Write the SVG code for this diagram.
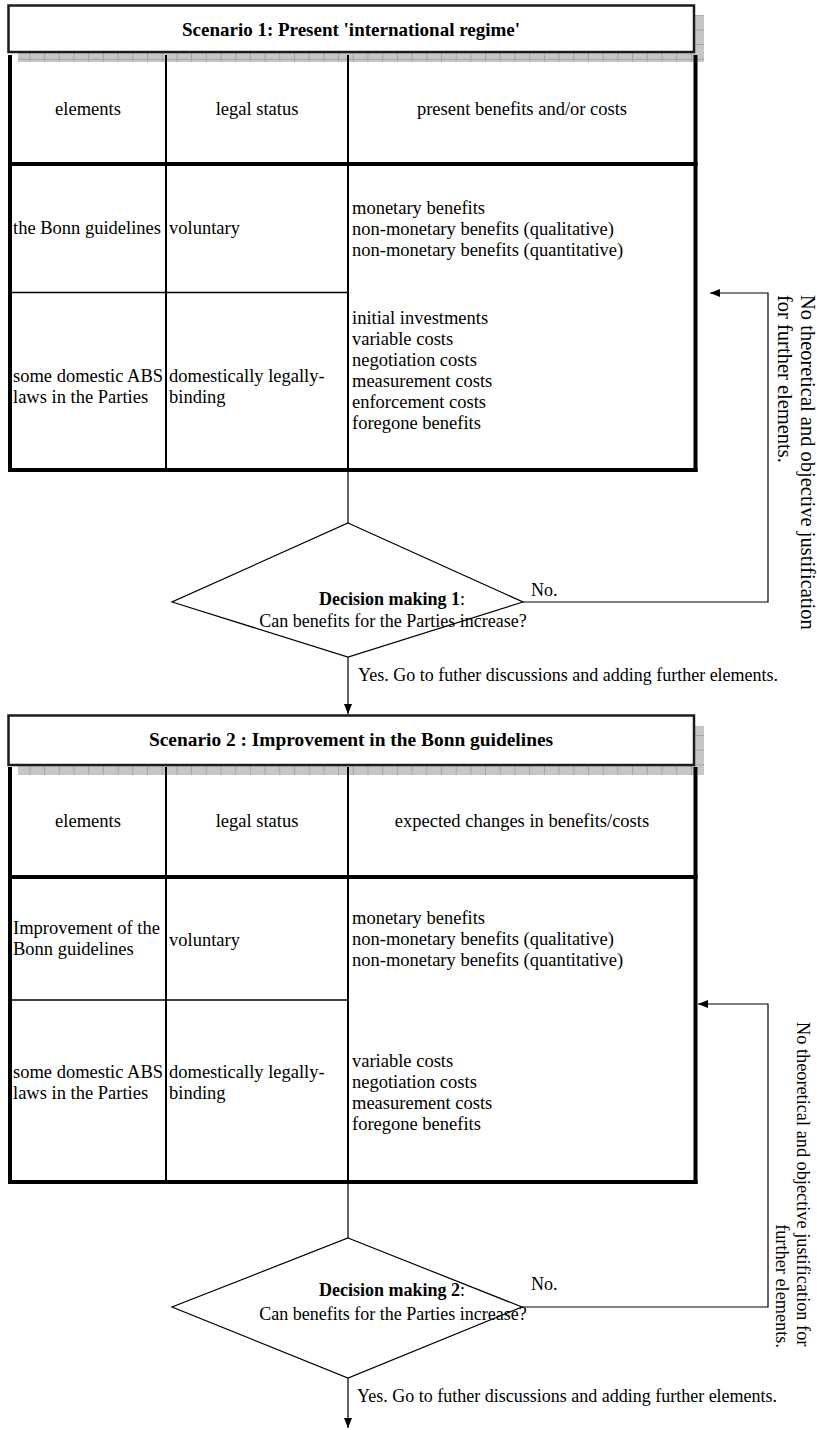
<svg xmlns="http://www.w3.org/2000/svg" width="817" height="1430" viewBox="0 0 817 1430">
  <defs>
    <!-- hatched drop-shadow fill used behind the scenario title boxes -->
    <pattern id="shade" width="14.7" height="14.7" patternUnits="userSpaceOnUse">
      <rect width="14.7" height="14.7" fill="#c6c6c6"/>
      <path d="M0.5 0V14.7M0 0.5H14.7" stroke="#9c9c9c" stroke-width="0.8"/>
    </pattern>
    <marker id="arrow" viewBox="0 0 10 8" refX="10" refY="4" markerWidth="10" markerHeight="8" markerUnits="userSpaceOnUse" orient="auto">
      <path d="M0 0L10 4L0 8Z" fill="#000"/>
    </marker>
  </defs>
  <style>
    text{font-family:"Liberation Serif","Times New Roman",serif;fill:#000}
    .b{font-size:18.5px}
    .c{text-anchor:middle}
    .t{font-size:19px;font-weight:bold;text-anchor:middle}
    .d{font-size:18px;text-anchor:middle}
    .s{font-size:18px}
    .v1{font-size:20.5px}
    .v2{font-size:18.3px}
    .shadow{fill:url(#shade)}
    .title{fill:#fff;stroke:#1c1c1c;stroke-width:2.5}
    .thick{stroke:#000;stroke-width:4;fill:none}
    .col{stroke:#000;stroke-width:2;fill:none}
    .thin{stroke:#000;stroke-width:1.5;fill:none}
    .conn{fill:none;stroke:#000;stroke-width:1.2}
    .dia{fill:#fff;stroke:#000;stroke-width:1.2}
  </style>
  <rect width="817" height="1430" fill="#fff"/>

  <!-- ===== Scenario 1 ===== -->
  <g id="scenario1-title">
    <rect class="shadow" x="18" y="53" width="686" height="9"/>
    <rect class="shadow" x="695" y="15" width="9" height="47"/>
    <rect class="title" x="8.5" y="5.5" width="685.5" height="46.5"/>
    <text class="t" x="351" y="36">Scenario 1: Present 'international regime'</text>
  </g>

  <g id="scenario1-table">
    <line class="col" x1="166" y1="55" x2="166" y2="470"/>
    <line class="col" x1="348" y1="55" x2="348" y2="470"/>
    <line class="thin" x1="10" y1="292.5" x2="348" y2="292.5"/>
    <line class="thick" x1="8" y1="164" x2="697.5" y2="164"/>
    <line class="thick" x1="8" y1="470" x2="697.5" y2="470"/>
    <line class="thick" x1="10" y1="55" x2="10" y2="472"/>
    <line class="thick" x1="695.5" y1="55" x2="695.5" y2="472"/>
    <text class="b c" x="88" y="115">elements</text>
    <text class="b c" x="257" y="115">legal status</text>
    <text class="b c" x="522" y="115">present benefits and/or costs</text>
    <text class="b" x="13" y="234">the Bonn guidelines</text>
    <text class="b" x="169" y="234">voluntary</text>
    <text class="b" x="13" y="382">some domestic ABS</text>
    <text class="b" x="13" y="403">laws in the Parties</text>
    <text class="b" x="169" y="382">domestically legally-</text>
    <text class="b" x="169" y="403">binding</text>
    <text class="b" x="352" y="214">monetary benefits</text>
    <text class="b" x="352" y="235">non-monetary benefits (qualitative)</text>
    <text class="b" x="352" y="256">non-monetary benefits (quantitative)</text>
    <text class="b" x="352" y="324">initial investments</text>
    <text class="b" x="352" y="345">variable costs</text>
    <text class="b" x="352" y="366">negotiation costs</text>
    <text class="b" x="352" y="387">measurement costs</text>
    <text class="b" x="352" y="408">enforcement costs</text>
    <text class="b" x="352" y="429">foregone benefits</text>
  </g>

  <g id="decision1">
    <polygon class="dia" points="348,523 523,602 348,657 172,602"/>
    <text class="d" x="392" y="605"><tspan font-weight="bold">Decision making 1</tspan>:</text>
    <text class="d" x="393" y="627">Can benefits for the Parties increase?</text>
  </g>

  <!-- ===== Scenario 2 ===== -->
  <g id="scenario2-title">
    <rect class="shadow" x="18" y="766" width="686" height="9"/>
    <rect class="shadow" x="695" y="726" width="9" height="49"/>
    <rect class="title" x="8.5" y="715.5" width="685.5" height="49.5"/>
    <text class="t" x="351" y="746" style="font-size:19.4px">Scenario 2 : Improvement in the Bonn guidelines</text>
  </g>

  <g id="scenario2-table">
    <line class="col" x1="166" y1="767" x2="166" y2="1182"/>
    <line class="col" x1="348" y1="767" x2="348" y2="1182"/>
    <line class="thin" x1="10" y1="1000" x2="348" y2="1000"/>
    <line class="thick" x1="8" y1="877" x2="697.5" y2="877"/>
    <line class="thick" x1="8" y1="1182" x2="697.5" y2="1182"/>
    <line class="thick" x1="10" y1="767" x2="10" y2="1184"/>
    <line class="thick" x1="695.5" y1="767" x2="695.5" y2="1184"/>
    <text class="b c" x="88" y="827">elements</text>
    <text class="b c" x="257" y="827">legal status</text>
    <text class="b c" x="522" y="827">expected changes in benefits/costs</text>
    <text class="b" x="13" y="934">Improvement of the</text>
    <text class="b" x="13" y="955">Bonn guidelines</text>
    <text class="b" x="169" y="946">voluntary</text>
    <text class="b" x="13" y="1078">some domestic ABS</text>
    <text class="b" x="13" y="1099">laws in the Parties</text>
    <text class="b" x="169" y="1078">domestically legally-</text>
    <text class="b" x="169" y="1099">binding</text>
    <text class="b" x="352" y="924">monetary benefits</text>
    <text class="b" x="352" y="945">non-monetary benefits (qualitative)</text>
    <text class="b" x="352" y="966">non-monetary benefits (quantitative)</text>
    <text class="b" x="352" y="1067">variable costs</text>
    <text class="b" x="352" y="1088">negotiation costs</text>
    <text class="b" x="352" y="1109">measurement costs</text>
    <text class="b" x="352" y="1130">foregone benefits</text>
  </g>

  <g id="decision2">
    <polygon class="dia" points="348,1238 522,1307 348,1378 172,1307"/>
    <text class="d" x="392" y="1296"><tspan font-weight="bold">Decision making 2</tspan>:</text>
    <text class="d" x="393" y="1320">Can benefits for the Parties increase?</text>
  </g>

  <!-- ===== Connectors ===== -->
  <g id="connectors">
    <line class="conn" x1="348" y1="472" x2="348" y2="523"/>
    <polyline class="conn" points="523,602 768,602 768,293 710,293" marker-end="url(#arrow)"/>
    <line class="conn" x1="348" y1="657" x2="348" y2="714" marker-end="url(#arrow)"/>
    <line class="conn" x1="348" y1="1184" x2="348" y2="1238"/>
    <polyline class="conn" points="522,1307 768,1307 768,1004 698,1004" marker-end="url(#arrow)"/>
    <line class="conn" x1="348" y1="1378" x2="348" y2="1428" marker-end="url(#arrow)"/>
  </g>

  <g id="connector-labels">
    <text class="s" x="531" y="596">No.</text>
    <text class="s" x="358" y="681">Yes. Go to futher discussions and adding further elements.</text>
    <g transform="translate(801,295) rotate(90)">
      <text class="v1" x="0" y="0">No theoretical and objective justification</text>
      <text class="v1" x="0" y="23">for further elements.</text>
    </g>
    <text class="s" x="531" y="1290">No.</text>
    <text class="s" x="357" y="1402">Yes. Go to futher discussions and adding further elements.</text>
    <g transform="translate(797,1022) rotate(90)">
      <text class="v2" x="0" y="0">No theoretical and objective justification for</text>
      <text class="v2" x="326" y="21" style="text-anchor:end">further elements.</text>
    </g>
  </g>
</svg>
